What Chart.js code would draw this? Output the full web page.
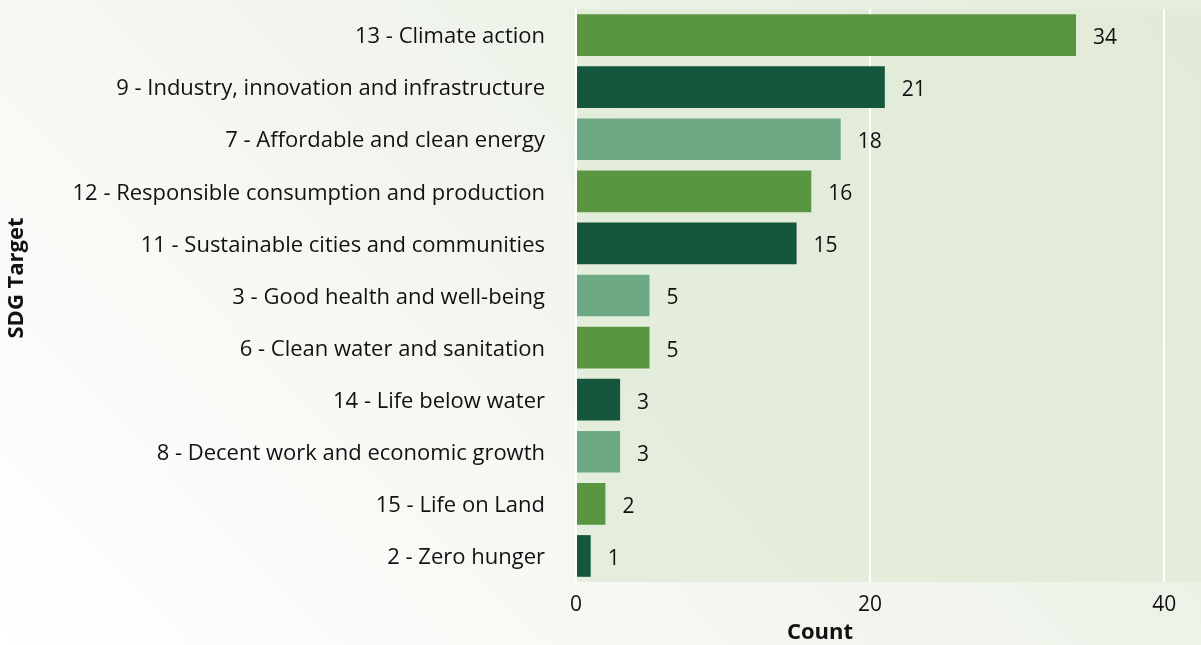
<!DOCTYPE html>
<html>
<head>
<meta charset="utf-8">
<script src="https://cdn.jsdelivr.net/npm/chart.js@4"></script>
<style>
  html, body { margin: 0; padding: 0; }
  body { width: 1201px; height: 645px; overflow: hidden; }
  #wrap { width: 1201px; height: 645px; position: relative; }
</style>
</head>
<body>
<div id="wrap"><canvas id="c" width="1201" height="645"></canvas></div>
<script>
// SDG targets and how often each appears
const categories = [
  "13 - Climate action",
  "9 - Industry, innovation and infrastructure",
  "7 - Affordable and clean energy",
  "12 - Responsible consumption and production",
  "11 - Sustainable cities and communities",
  "3 - Good health and well-being",
  "6 - Clean water and sanitation",
  "14 - Life below water",
  "8 - Decent work and economic growth",
  "15 - Life on Land",
  "2 - Zero hunger"
];
const counts = [34, 21, 18, 16, 15, 5, 5, 3, 3, 2, 1];
const xTicks = [0, 20, 40];
const xTitle = "Count";
const yTitle = "SDG Target";

const palette = ["#5a9642", "#14573d", "#6daa84"];
const barColors = categories.map((_, i) => palette[i % palette.length]);

const FONT = "'Open Sans', Lato, sans-serif";

// Page background gradient and plot panel fill
const backdrop = {
  id: "backdrop",
  beforeDraw(chart) {
    const { ctx, width, height, chartArea: a } = chart;
    ctx.save();
    const g = ctx.createLinearGradient(0, height, width * 0.7, -height * 0.3);
    g.addColorStop(0, "#ffffff");
    g.addColorStop(0.5, "#f3f6f0");
    g.addColorStop(1, "#e6eedf");
    ctx.fillStyle = g;
    ctx.fillRect(0, 0, width, height);
    const p = ctx.createLinearGradient(a.left, a.bottom, a.right, a.top);
    p.addColorStop(0, "#e5eedd");
    p.addColorStop(1, "#e1ebd8");
    ctx.fillStyle = p;
    ctx.fillRect(a.left, a.top, a.right - a.left, a.bottom - a.top);
    ctx.restore();
  }
};

// Count printed just past the end of each bar, plus the two axis titles
const annotations = {
  id: "annotations",
  afterDatasetsDraw(chart) {
    const { ctx } = chart;
    const meta = chart.getDatasetMeta(0);
    ctx.save();
    ctx.font = "21px " + FONT;
    ctx.fillStyle = "#111111";
    ctx.textAlign = "left";
    ctx.textBaseline = "middle";
    meta.data.forEach((bar, i) => {
      ctx.fillText(String(counts[i]), bar.x + 17, bar.y + 3);
    });

    ctx.font = "bold 22px " + FONT;
    ctx.textAlign = "center";
    ctx.fillText(xTitle, 820, 633);

    ctx.translate(17, 278);
    ctx.rotate(-Math.PI / 2);
    ctx.fillText(yTitle, 0, 0);
    ctx.restore();
  }
};

new Chart(document.getElementById("c"), {
  type: "bar",
  data: {
    labels: categories,
    datasets: [{
      data: counts,
      backgroundColor: barColors,
      borderWidth: 0,
      barPercentage: 0.8,
      categoryPercentage: 1.0
    }]
  },
  options: {
    indexAxis: "y",
    responsive: false,
    animation: false,
    layout: { padding: { top: 9, right: 0, bottom: 0, left: 0 } },
    plugins: {
      legend: { display: false },
      tooltip: { enabled: false }
    },
    scales: {
      x: {
        min: 0,
        max: 42.5,
        afterBuildTicks(scale) {
          scale.ticks = xTicks.map(v => ({ value: v }));
        },
        grid: { color: "#ffffff", lineWidth: 2, drawTicks: false },
        border: { display: false },
        ticks: {
          color: "#111111",
          font: { family: FONT, size: 21 },
          padding: 10
        },
        afterFit(scale) { scale.height = 63; }
      },
      y: {
        grid: { display: false, drawTicks: false },
        border: { display: false },
        ticks: {
          color: "#111111",
          font: { family: FONT, size: 22 },
          padding: 31,
          labelOffset: 2
        },
        afterFit(scale) {
          scale.width = 576;
          scale.paddingTop = 0;
          scale.paddingBottom = 0;
        }
      }
    }
  },
  plugins: [backdrop, annotations]
});
</script>
</body>
</html>
